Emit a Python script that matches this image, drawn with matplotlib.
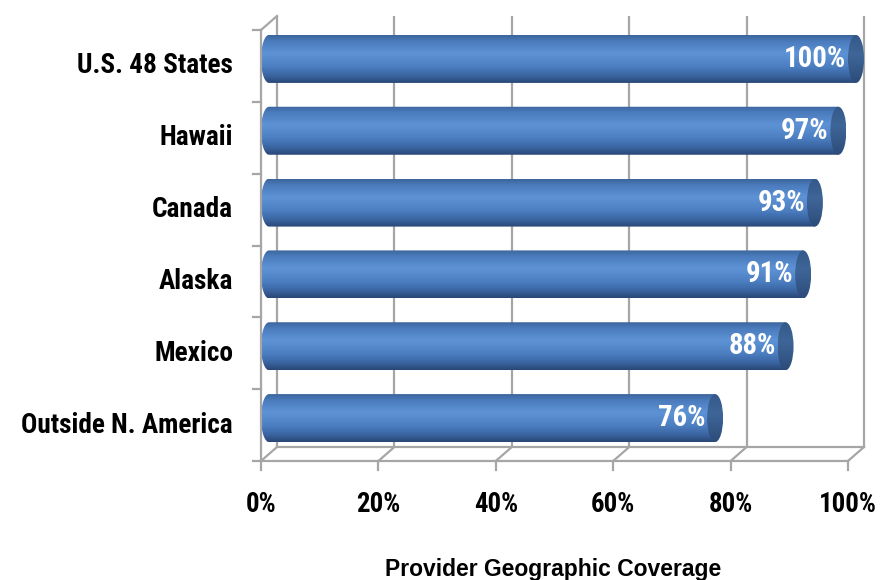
import os
import numpy as np
import matplotlib
matplotlib.use("Agg")
import matplotlib.pyplot as plt
import matplotlib.font_manager as fm
from matplotlib.patches import Polygon, Ellipse
from matplotlib.colors import LinearSegmentedColormap

categories = ["Outside N. America", "Mexico", "Alaska", "Canada", "Hawaii", "U.S. 48 States"]
values = [76, 88, 91, 93, 97, 100]
xticks = [0, 20, 40, 60, 80, 100]
xticklabels = ["0%", "20%", "40%", "60%", "80%", "100%"]
xlabel = "Provider Geographic Coverage"

W, H = 881, 580
fig = plt.figure(figsize=(W / 100, H / 100), dpi=100)
fig.patch.set_facecolor("white")
renderer = fig.canvas.get_renderer()


def find_narrow():
    files = [f.fname for f in fm.fontManager.ttflist]
    prefs = ["liberationsansnarrow-bold.", "arialnarrow", "arial narrow bold",
             "robotocondensed-bold.", "notosans-condensedbold.", "dejavusanscondensed-bold.",
             "opensans-condensedbold.", "opensans_condensed-bold."]
    for p in prefs:
        for f in files:
            if p in os.path.basename(f).lower():
                return f
    for f in files:
        b = os.path.basename(f).lower()
        if (("narrow" in b or "condensed" in b) and "bold" in b and "semi" not in b
                and "extra" not in b and "italic" not in b and "mono" not in b and "serif" not in b):
            return f
    return None


nfile = find_narrow()
if nfile:
    FP = fm.FontProperties(fname=nfile)
else:
    FP = fm.FontProperties(family=["Liberation Sans", "DejaVu Sans"], weight="bold")


def fit_size(s, base, target_w):
    t = fig.text(0, 0, s, fontproperties=FP, size=base)
    w = t.get_window_extent(renderer).width
    t.remove()
    return min(base * 1.15, base * target_w / w)


cat_size = fit_size("U.S. 48 States", 20, 156)
tick_size = fit_size("100%", 21, 58)
val_size = fit_size("100%", 20, 62)

L, R, B, T = 261, 848, 461, 30  # pixel frame of front axes
ax = fig.add_axes([L / W, 1 - B / H, (R - L) / W, (B - T) / H])
ax.set_axis_off()

sx = 100 / (R - L)
sy = 6 / (B - T)
dx, dy = 16 * sx, 14 * sy
y0, y1 = -0.5, 5.5

gcol = "#a6a6a6"
glw = 1.6

for t in xticks:
    ax.plot([t + dx, t + dx], [y0 + dy, y1 + dy], color=gcol, lw=glw, zorder=1, clip_on=False, solid_capstyle="butt")
    ax.plot([t, t + dx], [y0, y0 + dy], color=gcol, lw=glw, zorder=1, clip_on=False)
ax.plot([dx, 100 + dx], [y0 + dy, y0 + dy], color=gcol, lw=glw, zorder=1, clip_on=False)
ax.plot([0, dx], [y1, y1 + dy], color=gcol, lw=glw, zorder=1, clip_on=False)

ax.plot([0, 0], [y0, y1], color=gcol, lw=glw, zorder=5, clip_on=False)
ax.plot([0, 100], [y0, y0], color=gcol, lw=glw, zorder=5, clip_on=False)
for k in range(7):
    yy = y0 + k
    ax.plot([-8 * sx, 0], [yy, yy], color=gcol, lw=glw, zorder=5, clip_on=False)
for t in xticks:
    ax.plot([t, t], [y0, y0 - 9 * sy], color=gcol, lw=glw, zorder=5, clip_on=False)

cmap = LinearSegmentedColormap.from_list("cyl", [
    (0.0, "#3b649c"), (0.12, "#4a7abb"), (0.38, "#5d93d6"),
    (0.65, "#4c7fc2"), (0.85, "#3a64a0"), (1.0, "#284775")])
grad = np.linspace(0, 1, 256).reshape(-1, 1)
capmap = LinearSegmentedColormap.from_list("cap", [
    (0.0, "#34588a"), (0.4, "#3f6698"), (1.0, "#2c4c7a")])

bh = 48 * sy
a = 8 * sx
for i, (c, v) in enumerate(zip(categories, values)):
    yc = i + dy / 2
    xs = dx / 2
    xe = v + dx / 2
    th = np.linspace(np.pi / 2, 3 * np.pi / 2, 40)
    left = np.column_stack([xs + a * np.cos(th), yc + bh / 2 * np.sin(th)])
    pts = np.vstack([left, [[xe, yc - bh / 2], [xe, yc + bh / 2]]])
    poly = Polygon(pts, closed=True, facecolor="none", edgecolor="none")
    ax.add_patch(poly)
    im = ax.imshow(grad, cmap=cmap, aspect="auto", interpolation="bilinear",
                   extent=[xs - a, xe, yc - bh / 2, yc + bh / 2], origin="upper", zorder=3)
    im.set_clip_box(fig.bbox)
    im.set_clip_path(poly)
    cap = Ellipse((xe, yc), 2 * a, bh, facecolor="none", edgecolor="none")
    ax.add_patch(cap)
    im2 = ax.imshow(grad, cmap=capmap, aspect="auto", interpolation="bilinear",
                    extent=[xe - a, xe + a, yc - bh / 2, yc + bh / 2], origin="upper", zorder=4)
    im2.set_clip_box(fig.bbox)
    im2.set_clip_path(cap)
    ax.text(v - 0.3, yc, f"{v}%", ha="right", va="center", color="white",
            fontproperties=FP, size=val_size, zorder=6)
    ax.text(-28 * sx, i, c, ha="right", va="center", color="black",
            fontproperties=FP, size=cat_size, zorder=6, clip_on=False)

for t, lab in zip(xticks, xticklabels):
    ax.text(t, y0 - 44 * sy, lab, ha="center", va="center", color="black",
            fontproperties=FP, size=tick_size, clip_on=False)

ax.set_xlim(0, 100)
ax.set_ylim(y0, y1)

fig.text(553 / W, 1 - 576 / H, xlabel, ha="center", va="baseline",
         fontsize=16.5, fontweight="bold", family=["Liberation Sans", "DejaVu Sans"])

fig.savefig("out.png", dpi=100)
